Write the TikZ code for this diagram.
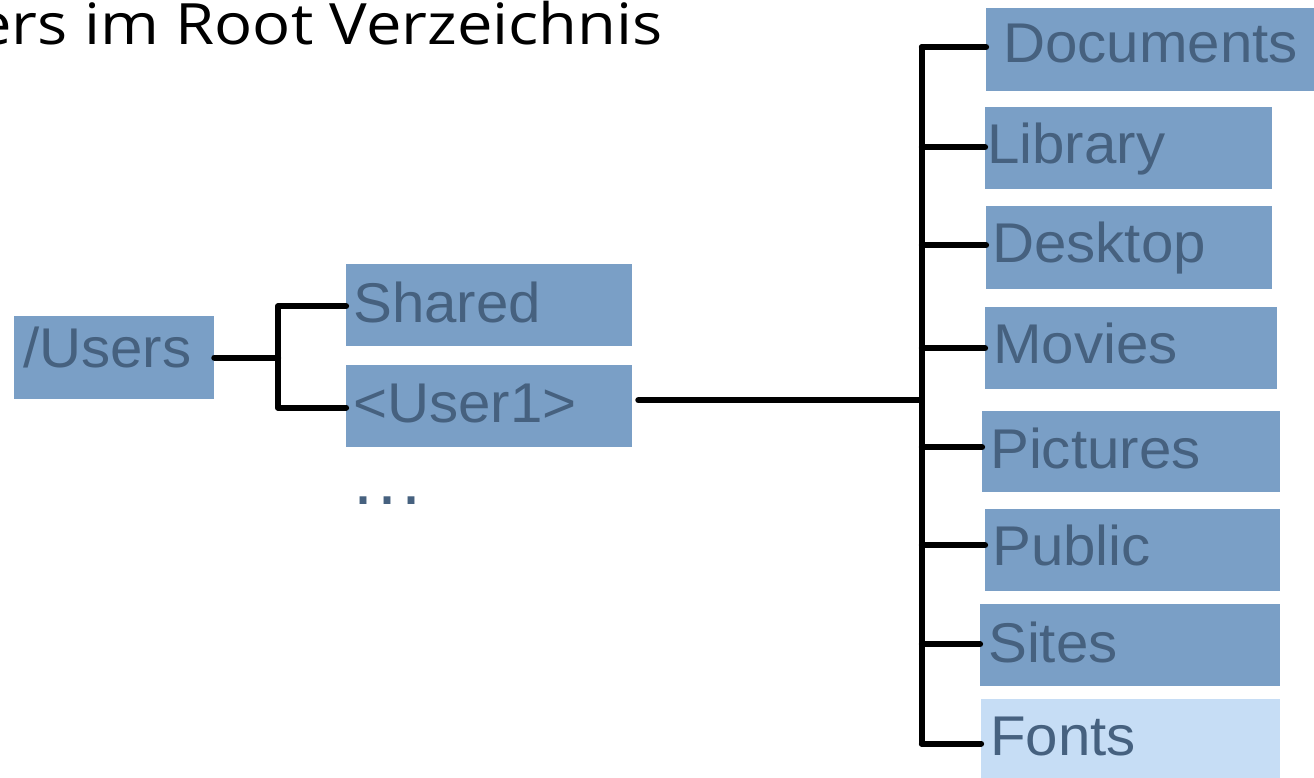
\documentclass[tikz,border=0pt]{standalone}
\usepackage{fontspec}
\usepackage{graphicx}
\newfontfamily\boxfont{Liberation Sans}
\newfontfamily\titlefont{Open Sans}
\definecolor{boxblue}{HTML}{7A9FC6}
\definecolor{boxlight}{HTML}{C6DDF5}
\definecolor{ink}{HTML}{46617F}
\newcommand\wide[1]{\scalebox{1.04}[1]{#1}}
\tikzset{
  folder/.style={fill=boxblue, draw=none, inner sep=0pt, anchor=north west},
  ftext/.style={font=\boxfont\fontsize{56}{60}\selectfont, text=ink, inner sep=0pt, anchor=base west},
  conn/.style={draw=black, line width=6.3pt, line cap=round, line join=round},
}
\begin{document}
\begin{tikzpicture}[x=1pt,y=-1pt]
  \clip (0,0) rectangle (1314,777);
  \fill[white] (0,0) rectangle (1314,777);

  % heading
  \node[font=\titlefont\fontsize{57}{60}\selectfont, inner sep=0pt, anchor=base east] (title) at (663,44) {\scalebox{1.11}[1]{ers im Root Verzeichnis}};

  % left part of the tree
  \node[folder, minimum width=200pt, minimum height=83pt] (users) at (14,316) {};
  \node[ftext] (users-t) at (23,367) {\wide{/Users}};
  \node[folder, minimum width=286pt, minimum height=82pt] (shared) at (346,264) {};
  \node[ftext] (shared-t) at (353,322) {\wide{Shared}};
  \node[folder, minimum width=286pt, minimum height=82pt] (user1) at (346,365) {};
  \node[ftext] (user1-t) at (353,422) {\wide{<User1>}};
  \node[ftext, font=\boxfont\fontsize{72}{76}\selectfont] (more) at (353,504) {.\kern4pt.\kern4pt.};

  % contents of the user folder
  \node[folder, minimum width=340pt, minimum height=83pt] (docs) at (986,8) {};
  \node[ftext] (docs-t) at (1003,62) {\wide{Documents}};
  \node[folder, minimum width=287pt, minimum height=82pt] (library) at (985,107) {};
  \node[ftext] (library-t) at (987,163) {\wide{Library}};
  \node[folder, minimum width=286pt, minimum height=83pt] (desktop) at (986,206) {};
  \node[ftext] (desktop-t) at (992,262) {\wide{Desktop}};
  \node[folder, minimum width=292pt, minimum height=82pt] (movies) at (985,307) {};
  \node[ftext] (movies-t) at (993,363) {\wide{Movies}};
  \node[folder, minimum width=298pt, minimum height=81pt] (pictures) at (982,411) {};
  \node[ftext] (pictures-t) at (990,468) {\wide{Pictures}};
  \node[folder, minimum width=295pt, minimum height=82pt] (public) at (985,509) {};
  \node[ftext] (public-t) at (992,565) {\wide{Public}};
  \node[folder, minimum width=300pt, minimum height=82pt] (sites) at (980,604) {};
  \node[ftext] (sites-t) at (988,662) {\wide{Sites}};
  \node[folder, fill=boxlight, minimum width=299pt, minimum height=91pt] (fonts) at (981,699) {};
  \node[ftext] (fonts-t) at (990,755) {\wide{Fonts}};

  % connectors
  \coordinate (trunkA) at (278,0);
  \coordinate (trunkB) at (922,0);
  \coordinate (stub) at (914,0);
  \draw[conn] (users.east) -- (users.east -| trunkA);
  \draw[conn] ([yshift=-1pt]shared.west) -| ([yshift=-1.5pt]user1.west -| trunkA) -- ([yshift=-1.5pt]user1.west);
  \draw[conn] ([shift={(6,-6)}]user1.east) -- ([shift={(6,-6)}]user1.east -| stub);

  \draw[conn] ([yshift=2.5pt]docs.west -| trunkB) -- ([yshift=1pt]fonts.west -| trunkB);
  \draw[conn] ([yshift=2.5pt]docs.west) -- ([yshift=2.5pt]docs.west -| trunkB);
  \draw[conn] ([yshift=1pt]library.west) -- ([yshift=1pt]library.west -| trunkB);
  \draw[conn] ([yshift=2.5pt]desktop.west) -- ([yshift=2.5pt]desktop.west -| trunkB);
  \draw[conn] (movies.west) -- (movies.west -| trunkB);
  \draw[conn] ([yshift=4.5pt]pictures.west) -- ([yshift=4.5pt]pictures.west -| trunkB);
  \draw[conn] ([yshift=5pt]public.west) -- ([yshift=5pt]public.west -| trunkB);
  \draw[conn] ([yshift=1pt]sites.west) -- ([yshift=1pt]sites.west -| trunkB);
  \draw[conn] ([yshift=1pt]fonts.west) -- ([yshift=1pt]fonts.west -| trunkB);
\end{tikzpicture}
\end{document}
